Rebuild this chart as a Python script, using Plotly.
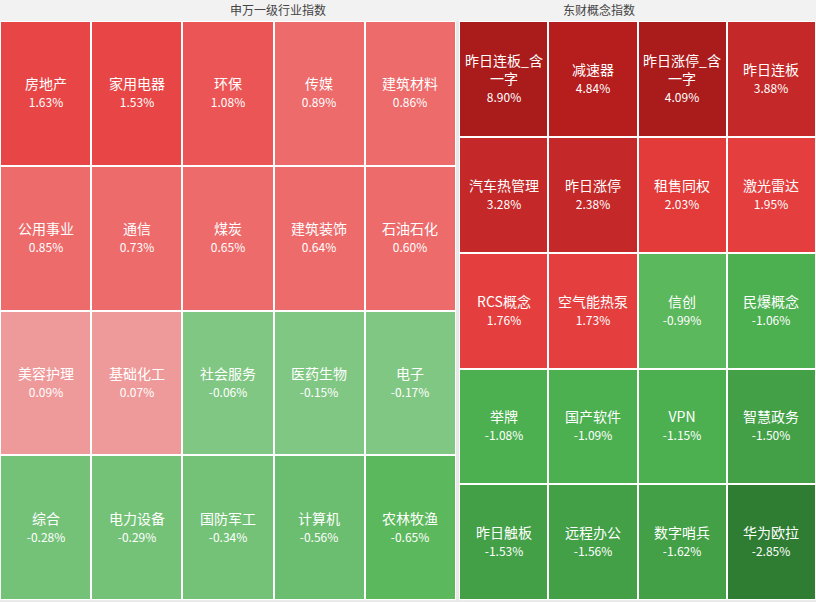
import plotly.graph_objects as go

left_names = [["房地产","家用电器","环保","传媒","建筑材料"],
              ["公用事业","通信","煤炭","建筑装饰","石油石化"],
              ["美容护理","基础化工","社会服务","医药生物","电子"],
              ["综合","电力设备","国防军工","计算机","农林牧渔"]]
left_vals = [[1.63,1.53,1.08,0.89,0.86],
             [0.85,0.73,0.65,0.64,0.60],
             [0.09,0.07,-0.06,-0.15,-0.17],
             [-0.28,-0.29,-0.34,-0.56,-0.65]]
left_colors = [["#e84646","#e84646","#ec5555","#ed6b6b","#ed6b6b"],
               ["#ed6b6b","#ed6b6b","#ed6b6b","#ed6b6b","#ed6b6b"],
               ["#ef9a9a","#ef9a9a","#81c784","#81c784","#81c784"],
               ["#74c277","#74c277","#74c277","#6bbd6f","#5cb85c"]]
right_names = [["昨日连板_含<br>一字","减速器","昨日涨停_含<br>一字","昨日连板"],
               ["汽车热管理","昨日涨停","租售同权","激光雷达"],
               ["RCS概念","空气能热泵","信创","民爆概念"],
               ["举牌","国产软件","VPN","智慧政务"],
               ["昨日触板","远程办公","数字哨兵","华为欧拉"]]
right_vals = [[8.90,4.84,4.09,3.88],
              [3.28,2.38,2.03,1.95],
              [1.76,1.73,-0.99,-1.06],
              [-1.08,-1.09,-1.15,-1.50],
              [-1.53,-1.56,-1.62,-2.85]]
right_colors = [["#aa1b1b","#b61d1d","#aa1b1b","#c42828"],
                ["#c42828","#c42828","#e33a3a","#e53e3e"],
                ["#e53e3e","#e53e3e","#5cb85c","#4caf50"],
                ["#4caf50","#4caf50","#4caf50","#43a047"],
                ["#43a047","#43a047","#43a047","#2e7d32"]]

def panel(names, vals, colors, xa, ya):
    rows, cols = len(names), len(names[0])
    flat = [c for r in colors for c in r]
    n = len(flat)
    scale = []
    for i, c in enumerate(flat):
        scale.append([i/n, c]); scale.append([(i+1)/n, c])
    z = [[r*cols+c+0.5 for c in range(cols)] for r in range(rows)]
    text = [[f"{names[r][c]}<br><span style='font-size:12px'>{vals[r][c]:.2f}%</span>"
             for c in range(cols)] for r in range(rows)]
    return go.Heatmap(z=z, zmin=0, zmax=n, colorscale=scale, showscale=False,
                      text=text, texttemplate="%{text}", hoverinfo="skip",
                      textfont=dict(color="white", size=14, family="Noto Sans CJK SC"),
                      xgap=2, ygap=2, xaxis=xa, yaxis=ya)

fig = go.Figure()
fig.add_trace(panel(left_names, left_vals, left_colors, "x", "y"))
fig.add_trace(panel(right_names, right_vals, right_colors, "x2", "y2"))
top = 1 - 21/602
ax = dict(showgrid=False, zeroline=False, showticklabels=False, ticks="")
fig.update_layout(
    width=816, height=602, margin=dict(l=0, r=0, t=0, b=0),
    paper_bgcolor="#e8e8e8", plot_bgcolor="white",
    xaxis=dict(domain=[0, 456/816], **ax), yaxis=dict(domain=[0.003, top], autorange="reversed", **ax),
    xaxis2=dict(domain=[459/816, 1], **ax), yaxis2=dict(domain=[0.003, top], autorange="reversed", **ax),
    annotations=[
        dict(text="申万一级行业指数", x=228/816, y=1-10/602, xref="paper", yref="paper", showarrow=False,
             yanchor="middle", font=dict(size=12, color="#444", family="Noto Sans CJK SC")),
        dict(text="东财概念指数", x=637/816, y=1-10/602, xref="paper", yref="paper", showarrow=False,
             yanchor="middle", font=dict(size=12, color="#444", family="Noto Sans CJK SC")),
    ],
    shapes=[dict(type="rect", xref="paper", yref="paper", x0=0, x1=1, y0=top, y1=1,
                 fillcolor="#f2f2f2", line_width=0, layer="below")],
)
fig.write_html("out.html", config={"displayModeBar": False},
               post_script="document.body.style.margin='0';document.body.style.overflow='hidden';")
